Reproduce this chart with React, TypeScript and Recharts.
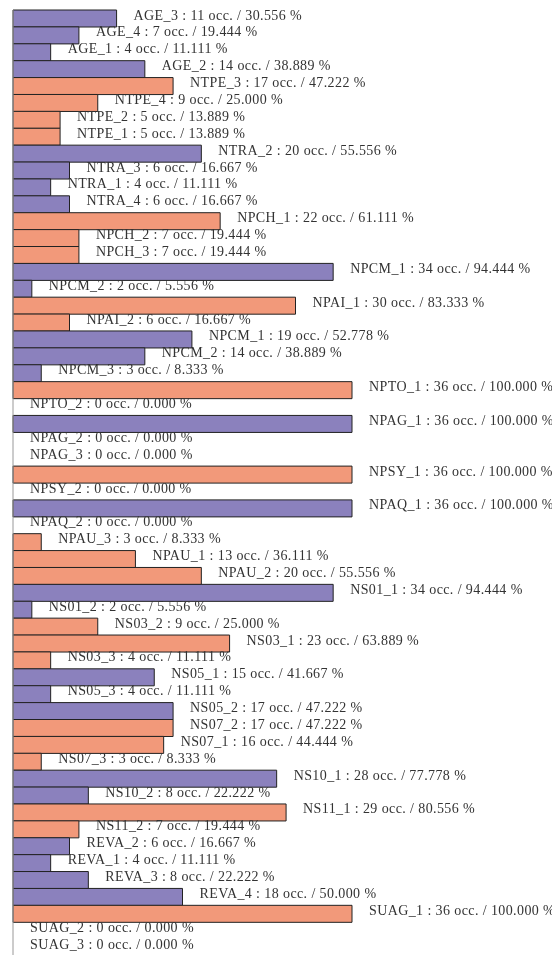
import React from "react";
import { BarChart, Bar, XAxis, YAxis, Cell, LabelList } from "recharts";

// modality names, top to bottom
const names = [
  "AGE_3", "AGE_4", "AGE_1", "AGE_2",
  "NTPE_3", "NTPE_4", "NTPE_2", "NTPE_1",
  "NTRA_2", "NTRA_3", "NTRA_1", "NTRA_4",
  "NPCH_1", "NPCH_2", "NPCH_3",
  "NPCM_1", "NPCM_2",
  "NPAI_1", "NPAI_2",
  "NPCM_1", "NPCM_2", "NPCM_3",
  "NPTO_1", "NPTO_2",
  "NPAG_1", "NPAG_2", "NPAG_3",
  "NPSY_1", "NPSY_2",
  "NPAQ_1", "NPAQ_2",
  "NPAU_3", "NPAU_1", "NPAU_2",
  "NS01_1", "NS01_2",
  "NS03_2", "NS03_1", "NS03_3",
  "NS05_1", "NS05_3", "NS05_2",
  "NS07_2", "NS07_1", "NS07_3",
  "NS10_1", "NS10_2",
  "NS11_1", "NS11_2",
  "REVA_2", "REVA_1", "REVA_3", "REVA_4",
  "SUAG_1", "SUAG_2", "SUAG_3",
];

// occurrences
const counts = [
  11, 7, 4, 14,
  17, 9, 5, 5,
  20, 6, 4, 6,
  22, 7, 7,
  34, 2,
  30, 6,
  19, 14, 3,
  36, 0,
  36, 0, 0,
  36, 0,
  36, 0,
  3, 13, 20,
  34, 2,
  9, 23, 4,
  15, 4, 17,
  17, 16, 3,
  28, 8,
  29, 7,
  6, 4, 8, 18,
  36, 0, 0,
];

const total = 36;
const colors = ["#8b81bd", "#f2997a"];

// colour toggles whenever the variable prefix changes
let grp = 0;
const data = names.map((name, i) => {
  if (i > 0 && name.split("_")[0] !== names[i - 1].split("_")[0]) grp = 1 - grp;
  return {
    id: String(i),
    name,
    count: counts[i],
    text: `${name} : ${counts[i]} occ. / ${((counts[i] / total) * 100).toFixed(3)} %`,
    group: grp,
  };
});

const renderLabel = (props: any) => {
  const { x, y, width, height, value } = props;
  return (
    <text
      x={Number(x) + Number(width) + 17}
      y={Number(y) + Number(height) / 2 + 1}
      fill="#333"
      fontSize={14}
      letterSpacing={0.4}
      fontFamily="Liberation Serif"
    >
      {value}
    </text>
  );
};

export default function App() {
  return (
    <div style={{ position: "fixed", left: 0, top: 0 }}>
      <BarChart
        width={552}
        height={956}
        data={data}
        layout="vertical"
        margin={{ top: 10, right: 200, bottom: 0, left: 12 }}
        barCategoryGap={0}
      >
        <XAxis type="number" domain={[0, total]} hide />
        <YAxis
          type="category"
          dataKey="id"
          width={1}
          tick={false}
          tickLine={false}
          axisLine={{ stroke: "#999" }}
        />
        <Bar
          dataKey="count"
          stroke="#222"
          strokeWidth={1}
          minPointSize={0.01}
          isAnimationActive={false}
        >
          {data.map((d, i) => (
            <Cell
              key={i}
              fill={colors[d.group]}
              stroke={d.count === 0 ? "none" : "#222"}
            />
          ))}
          <LabelList dataKey="text" content={renderLabel} />
        </Bar>
      </BarChart>
    </div>
  );
}
